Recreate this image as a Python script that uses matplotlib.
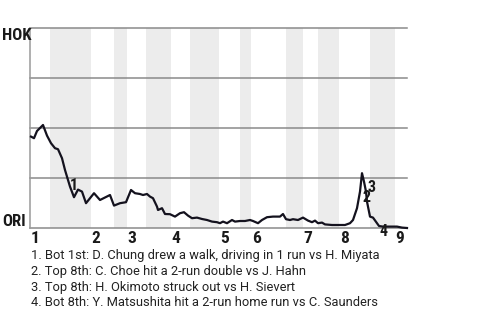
import matplotlib
matplotlib.use("Agg")
import matplotlib.pyplot as plt

# Game progress (x) and HOK win probability (y)
progress = [1, 4, 7, 13, 17, 21, 25, 28, 32, 35, 40, 44, 48, 52, 56, 64, 70, 80, 84, 90,
            96, 101, 105, 110, 113, 117, 120, 123, 127, 128, 132, 135, 140, 145, 150, 154,
            158, 162, 167, 172, 177, 182, 187, 190, 193, 197, 202, 205, 210, 215, 220, 223,
            228, 232, 237, 243, 250, 253, 256, 260, 263, 268, 273, 278, 282, 285, 288, 292,
            295, 302, 310, 315, 320, 323, 327, 330, 332, 334, 336, 337, 340, 343, 347, 349,
            353, 367, 372, 377]
hok_wp = [0.457, 0.449, 0.485, 0.515, 0.462, 0.424, 0.399, 0.394, 0.349, 0.29, 0.207, 0.154,
          0.192, 0.182, 0.124, 0.174, 0.14, 0.165, 0.112, 0.124, 0.129, 0.19, 0.174, 0.17,
          0.165, 0.17, 0.157, 0.149, 0.107, 0.09, 0.099, 0.07, 0.069, 0.057, 0.074, 0.079,
          0.062, 0.049, 0.052, 0.045, 0.04, 0.032, 0.029, 0.024, 0.032, 0.024, 0.04, 0.032,
          0.035, 0.035, 0.04, 0.035, 0.024, 0.04, 0.054, 0.057, 0.057, 0.07, 0.044, 0.04,
          0.044, 0.04, 0.052, 0.037, 0.029, 0.037, 0.024, 0.027, 0.018, 0.015, 0.015, 0.015,
          0.024, 0.04, 0.099, 0.182, 0.274, 0.232, 0.182, 0.132, 0.057, 0.052, 0.024, 0.01,
          0.007, 0.007, 0.002, 0.0]

# Half-inning boundaries (start of each half inning, plus game end)
half_starts = [0, 20, 61, 84, 97, 116, 141, 160, 189, 210, 221, 256, 273, 288, 309, 340, 365, 377]
inning_labels = ["1", "2", "3", "4", "5", "6", "7", "8", "9"]

# Event markers
event_ids = ["1", "2", "3", "4"]
event_x = [44, 336.5, 342, 353]
event_y = [0.215, 0.15, 0.205, -0.018]
event_texts = [
    "1. Bot 1st: D. Chung drew a walk, driving in 1 run vs H. Miyata",
    "2. Top 8th: C. Choe hit a 2-run double vs J. Hahn",
    "3. Top 8th: H. Okimoto struck out vs H. Sievert",
    "4. Bot 8th: Y. Matsushita hit a 2-run home run vs C. Saunders",
]
team_top = "HOK"
team_bottom = "ORI"

narrow = ["Roboto Condensed", "Roboto", "DejaVu Sans"]
body = ["Roboto", "DejaVu Sans"]

fig = plt.figure(figsize=(4.8, 3.2), dpi=100)
ax = fig.add_axes([30 / 480, 92 / 320, 377 / 480, 200 / 320])
ax.set_xlim(0, 377)
ax.set_ylim(0, 1)

# Shaded bottom-half innings
for i in range(1, len(half_starts) - 1, 2):
    ax.axvspan(half_starts[i], half_starts[i + 1], color="#ececec", lw=0, zorder=0)

for g in [0, 0.25, 0.5, 0.75, 1.0]:
    ax.axhline(g, color="#8a8a8a", lw=1.1, zorder=1, clip_on=False)

ax.plot(progress, hok_wp, color="#14121e", lw=1.6, zorder=3, clip_on=False,
        solid_joinstyle="round")

for t, x, y in zip(event_ids, event_x, event_y):
    ax.text(x, y, t, ha="center", va="center", fontsize=11.5, fontweight="bold",
            family=narrow, color="#1a1a1a", zorder=4, clip_on=False)

for spine in ["top", "right", "bottom"]:
    ax.spines[spine].set_visible(False)
ax.spines["left"].set_color("#9a9a9a")
ax.spines["left"].set_linewidth(1.1)
ax.set_xticks([])
ax.set_yticks([])

# Inning labels at start of each top half
for k, lab in enumerate(inning_labels):
    ax.annotate(lab, xy=(half_starts[2 * k], 0), xytext=(0.5, -2.5), textcoords="offset points",
                ha="left", va="top", fontsize=12.5, fontweight="bold", family=narrow,
                color="#1a1a1a")

fig.text(2 / 480, 1 - 35 / 320, team_top, ha="left", va="center", fontsize=12,
         fontweight="bold", family=narrow, color="#1a1a1a")
fig.text(2 / 480, 1 - 221 / 320, team_bottom, ha="left", va="center", fontsize=12,
         fontweight="bold", family=narrow, color="#1a1a1a")

for i, t in enumerate(event_texts):
    fig.text(31 / 480, 1 - (255 + 16 * i) / 320, t, ha="left", va="center",
             fontsize=9.25, family=body, color="#222222")

fig.savefig("out.png", dpi=100)
